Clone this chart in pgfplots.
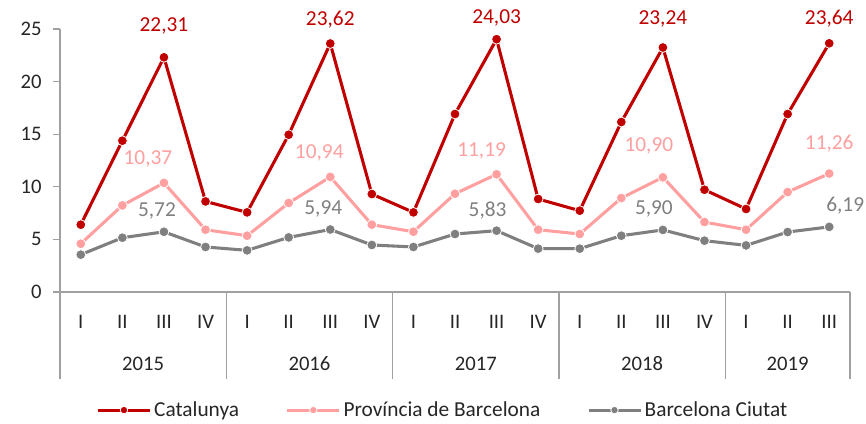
\documentclass[border=0pt]{standalone}
\usepackage{fontspec}
\setmainfont{Carlito}
\usepackage{pgfplots}
\pgfplotsset{compat=1.18}
\definecolor{cat}{HTML}{C00000}
\definecolor{prov}{HTML}{FF9F9F}
\definecolor{bcn}{HTML}{7F7F7F}
\definecolor{axc}{HTML}{A0A0A0}
\definecolor{txt}{HTML}{262626}
\newcommand{\lab}[6]{\node[text=#5, font=\fontsize{16}{18}\selectfont, inner sep=0pt] at (axis cs:#1,#2) [xshift=#3, yshift=#4] {#6};}
\begin{document}
\begin{tikzpicture}[font=\fontsize{15.5}{18}\selectfont]
\begin{axis}[
  scale only axis, width=592.5pt, height=197.25pt,
  xmin=-0.5, xmax=18.5, ymin=0, ymax=25,
  axis x line*=bottom, axis y line*=left,
  axis line style={draw=axc, line width=1pt, -},
  ytick={0,5,...,25},
  tick align=outside, major tick length=5.25pt,
  ytick style={draw=axc, line width=1pt},
  xtick={0,...,18},
  xticklabels={I,II,III,IV,I,II,III,IV,I,II,III,IV,I,II,III,IV,I,II,III},
  xtick style={draw=none},
  xticklabel style={anchor=center, yshift=-17.5pt, text=txt},
  yticklabel style={text=txt, xshift=-5pt},
  /pgf/number format/assume math mode=true,
  clip=false,
  legend columns=3,
  legend style={at={(0.485,-0.449)}, anchor=center, draw=none, fill=none,
    /tikz/every even column/.append style={column sep=33pt},
    nodes={inner xsep=2pt},
    font=\fontsize{16}{18}\selectfont, text=txt},
  legend image code/.code={\draw[#1, mark repeat=2, mark phase=2, mark size=2.8pt] plot coordinates {(0pt,0pt) (19.5pt,0pt) (39pt,0pt)};},
]
\addplot[cat, line width=2.3pt, mark=*, mark size=3.7pt, mark options={draw=white, line width=0.6pt, fill=cat}]
coordinates {(0,6.40) (1,14.38) (2,22.31) (3,8.61) (4,7.57) (5,14.95) (6,23.62) (7,9.31) (8,7.57) (9,16.92) (10,24.03) (11,8.84) (12,7.73) (13,16.16) (14,23.24) (15,9.72) (16,7.89) (17,16.92) (18,23.64)};
\addlegendentry{Catalunya}
\addplot[prov, line width=2.3pt, mark=*, mark size=3.7pt, mark options={draw=white, line width=0.6pt, fill=prov}]
coordinates {(0,4.59) (1,8.23) (2,10.37) (3,5.92) (4,5.35) (5,8.46) (6,10.94) (7,6.40) (8,5.73) (9,9.34) (10,11.19) (11,5.92) (12,5.51) (13,8.93) (14,10.90) (15,6.65) (16,5.92) (17,9.50) (18,11.26)};
\addlegendentry{Província de Barcelona}
\addplot[bcn, line width=2.3pt, mark=*, mark size=3.7pt, mark options={draw=white, line width=0.6pt, fill=bcn}]
coordinates {(0,3.55) (1,5.16) (2,5.72) (3,4.28) (4,3.96) (5,5.19) (6,5.94) (7,4.47) (8,4.28) (9,5.51) (10,5.83) (11,4.12) (12,4.12) (13,5.35) (14,5.90) (15,4.88) (16,4.43) (17,5.70) (18,6.19)};
\addlegendentry{Barcelona Ciutat}
% data labels
\lab{2}{22.31}{0pt}{23.25pt}{cat}{22,31}
\lab{6}{23.62}{0pt}{18pt}{cat}{23,62}
\lab{10}{24.03}{0pt}{15.75pt}{cat}{24,03}
\lab{14}{23.24}{0pt}{21.5pt}{cat}{23,24}
\lab{18}{23.64}{0pt}{18.5pt}{cat}{23,64}
\lab{2}{10.37}{-12pt}{18pt}{prov}{10,37}
\lab{6}{10.94}{-8.25pt}{18pt}{prov}{10,94}
\lab{10}{11.19}{-11.25pt}{17.25pt}{prov}{11,19}
\lab{14}{10.90}{-10.5pt}{23.7pt}{prov}{10,90}
\lab{18}{11.26}{0pt}{22.5pt}{prov}{11,26}
\lab{2}{5.72}{-5.25pt}{15.75pt}{bcn}{5,72}
\lab{6}{5.94}{-5.25pt}{15.75pt}{bcn}{5,94}
\lab{10}{5.83}{-6.75pt}{15pt}{bcn}{5,83}
\lab{14}{5.90}{-6.75pt}{15.75pt}{bcn}{5,90}
\lab{18}{6.19}{12pt}{15.75pt}{bcn}{6,19}
% category separators and year labels
\foreach \s in {-0.5,3.5,7.5,11.5,15.5,18.5}{
  \edef\tmp{\noexpand\draw[axc, line width=1pt] (axis cs:\s,0) -- ++(0pt,-65.25pt);}\tmp
}
\foreach \yx/\yl in {1.5/2015,5.5/2016,9.5/2017,13.5/2018,17/2019}{
  \edef\tmp{\noexpand\node[text=txt, anchor=center] at (axis cs:\yx,0) [yshift=-54pt] {\yl};}\tmp
}
\end{axis}
\path[use as bounding box] (-45pt,-98.25pt) rectangle (604.5pt,219pt);
\end{tikzpicture}
\end{document}
